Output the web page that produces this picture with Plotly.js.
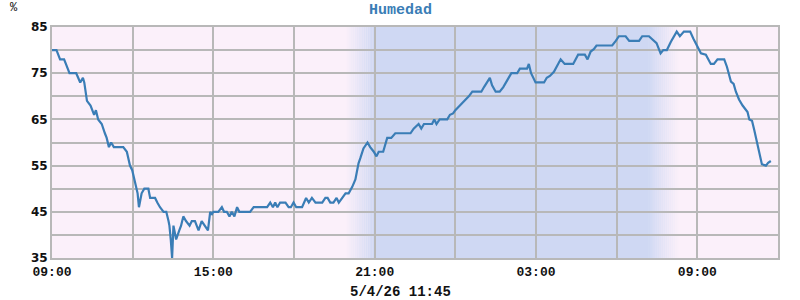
<!DOCTYPE html>
<html>
<head>
<meta charset="utf-8">
<script src="https://cdn.plot.ly/plotly-3.0.1.min.js"></script>
<style>html,body{margin:0;padding:0;background:#fff;}#chart{width:800px;height:300px;}</style>
</head>
<body>
<div id="chart"></div>
<script>
const times = [
"2026-04-04 09:00","2026-04-04 09:10","2026-04-04 09:18","2026-04-04 09:27","2026-04-04 09:31","2026-04-04 09:39","2026-04-04 09:54","2026-04-04 10:03","2026-04-04 10:09","2026-04-04 10:12",
"2026-04-04 10:18","2026-04-04 10:26","2026-04-04 10:34","2026-04-04 10:38","2026-04-04 10:43","2026-04-04 10:51","2026-04-04 10:58","2026-04-04 11:02","2026-04-04 11:07","2026-04-04 11:12",
"2026-04-04 11:18","2026-04-04 11:39","2026-04-04 11:47","2026-04-04 11:54","2026-04-04 11:59","2026-04-04 12:05","2026-04-04 12:11","2026-04-04 12:14","2026-04-04 12:20","2026-04-04 12:26",
"2026-04-04 12:35","2026-04-04 12:39","2026-04-04 12:50","2026-04-04 12:55","2026-04-04 13:01","2026-04-04 13:09","2026-04-04 13:15","2026-04-04 13:20","2026-04-04 13:22","2026-04-04 13:25",
"2026-04-04 13:28","2026-04-04 13:31","2026-04-04 13:37","2026-04-04 13:44","2026-04-04 13:48","2026-04-04 13:53","2026-04-04 13:59","2026-04-04 14:07","2026-04-04 14:12","2026-04-04 14:19",
"2026-04-04 14:27","2026-04-04 14:34","2026-04-04 14:42","2026-04-04 14:48","2026-04-04 14:53","2026-04-04 14:57","2026-04-04 15:00","2026-04-04 15:11","2026-04-04 15:19","2026-04-04 15:24",
"2026-04-04 15:30","2026-04-04 15:36","2026-04-04 15:41","2026-04-04 15:47","2026-04-04 15:53","2026-04-04 15:58","2026-04-04 16:22","2026-04-04 16:30","2026-04-04 17:00","2026-04-04 17:07",
"2026-04-04 17:13","2026-04-04 17:18","2026-04-04 17:23","2026-04-04 17:29","2026-04-04 17:41","2026-04-04 17:48","2026-04-04 17:53","2026-04-04 17:59","2026-04-04 18:05","2026-04-04 18:18",
"2026-04-04 18:27","2026-04-04 18:33","2026-04-04 18:40","2026-04-04 18:48","2026-04-04 19:03","2026-04-04 19:10","2026-04-04 19:15","2026-04-04 19:21","2026-04-04 19:28","2026-04-04 19:35",
"2026-04-04 19:40","2026-04-04 19:47","2026-04-04 19:55","2026-04-04 20:02","2026-04-04 20:10","2026-04-04 20:17","2026-04-04 20:24","2026-04-04 20:28","2026-04-04 20:35","2026-04-04 20:44",
"2026-04-04 20:50","2026-04-04 20:58","2026-04-04 21:04","2026-04-04 21:09","2026-04-04 21:19","2026-04-04 21:28","2026-04-04 21:37","2026-04-04 21:46","2026-04-04 22:20","2026-04-04 22:27",
"2026-04-04 22:38","2026-04-04 22:44","2026-04-04 22:50","2026-04-04 23:08","2026-04-04 23:13","2026-04-04 23:18","2026-04-04 23:25","2026-04-04 23:42","2026-04-04 23:48","2026-04-04 23:55",
"2026-04-05 00:00","2026-04-05 00:08","2026-04-05 00:15","2026-04-05 00:23","2026-04-05 00:30","2026-04-05 00:38","2026-04-05 00:58","2026-04-05 01:04","2026-04-05 01:10","2026-04-05 01:17",
"2026-04-05 01:22","2026-04-05 01:30","2026-04-05 01:39","2026-04-05 01:47","2026-04-05 01:56","2026-04-05 02:05","2026-04-05 02:18","2026-04-05 02:24","2026-04-05 02:40","2026-04-05 02:44",
"2026-04-05 02:49","2026-04-05 02:59","2026-04-05 03:18","2026-04-05 03:24","2026-04-05 03:31","2026-04-05 03:40","2026-04-05 03:55","2026-04-05 04:04","2026-04-05 04:23","2026-04-05 04:34",
"2026-04-05 04:49","2026-04-05 04:55","2026-04-05 05:02","2026-04-05 05:09","2026-04-05 05:15","2026-04-05 05:50","2026-04-05 05:58","2026-04-05 06:05","2026-04-05 06:20","2026-04-05 06:28",
"2026-04-05 06:50","2026-04-05 06:57","2026-04-05 07:12","2026-04-05 07:22","2026-04-05 07:29","2026-04-05 07:38","2026-04-05 07:44","2026-04-05 07:52","2026-04-05 08:01","2026-04-05 08:14",
"2026-04-05 08:21","2026-04-05 08:30","2026-04-05 08:44","2026-04-05 08:51","2026-04-05 09:00","2026-04-05 09:08","2026-04-05 09:19","2026-04-05 09:30","2026-04-05 09:37","2026-04-05 09:45",
"2026-04-05 10:00","2026-04-05 10:06","2026-04-05 10:15","2026-04-05 10:21","2026-04-05 10:26","2026-04-05 10:33","2026-04-05 10:41","2026-04-05 10:48","2026-04-05 10:52","2026-04-05 10:56",
"2026-04-05 11:02","2026-04-05 11:07","2026-04-05 11:13","2026-04-05 11:18","2026-04-05 11:24","2026-04-05 11:33","2026-04-05 11:38","2026-04-05 11:44"
];
const humidity = [
80,80,78,78,77,75,75,73,74,73,
69,68,66,67,65,64,62,61,59,60,
59,59,58,55,54,51.5,49,46,49,50,
50,48,48,47,46,45,45,43,42,39,
35,42,39,41,42,44,43,42,43,43,
41,43,42,41,45,44.5,45,45,46,45,
45,44,45,44,46,45,45,46,46,47,
46,47,46,47,47,46,46,47,46,46,
48,47,48,47,47,48,48,47,47,48,
47,48,49,49,50.4,52,55.5,56.6,58.7,60,
59,58,57,58,58,61,61,62,62,63,
64,63,64,64,65,64,65,65,66,66.3,
67,67.8,68.5,69.2,70,71,71,72,73,74,
72.4,71,71,72,73.5,75,75,76,76,77,
75,73,73,74,74.4,75.3,78,77,77,79,
79,78,79.7,80.2,81,81,82,83,83,82,
82,83,83,82,81.5,79.3,80,80,81.8,84,
83,84,84,82.5,80.7,79.3,79,77,77,78,
78,76.4,73.2,72.7,71,69.3,68,67,66.6,65,
64.7,62.7,60,57.3,55.3,55,55.6,56
];
const xRange = ["2026-04-04 09:00", "2026-04-05 12:00"];
const xTickVals = ["2026-04-04 09:00","2026-04-04 12:00","2026-04-04 15:00","2026-04-04 18:00","2026-04-04 21:00",
  "2026-04-05 00:00","2026-04-05 03:00","2026-04-05 06:00","2026-04-05 09:00","2026-04-05 12:00"];
const xTickText = ["09:00","","15:00","","21:00","","03:00","","09:00",""];
const yTickVals = [35, 40, 45, 50, 55, 60, 65, 70, 75, 80, 85];
const yTickText = ["35","","45","","55","","65","","75","","85"];
const dusk = ["2026-04-04 19:55", "2026-04-04 21:00"];
const dawn = ["2026-04-05 07:10", "2026-04-05 08:20"];
const titleText = "Humedad";
const unitText = "%";
const stampText = "5/4/26 11:45";

const pink = [251, 240, 250], blue = [207, 216, 243];
function mix(f) {
  const c = pink.map((p, i) => Math.round(p + (blue[i] - p) * f));
  return `rgb(${c[0]},${c[1]},${c[2]})`;
}
function ms(s) { return new Date(s.replace(" ", "T") + ":00Z").getTime(); }
function iso(t) { return new Date(t).toISOString().replace("T", " ").slice(0, 19); }
const shapes = [];
const N = 16;
shapes.push({type: "rect", xref: "x", yref: "paper", x0: dusk[1], x1: dawn[0], y0: 0, y1: 1,
  fillcolor: mix(1), line: {width: 0}, layer: "below"});
const d0 = ms(dusk[0]), d1 = ms(dusk[1]), a0 = ms(dawn[0]), a1 = ms(dawn[1]);
for (let i = 0; i < N; i++) {
  const f = (i + 0.5) / N;
  shapes.push({type: "rect", xref: "x", yref: "paper",
    x0: iso(d0 + (d1 - d0) * i / N), x1: iso(d0 + (d1 - d0) * (i + 1) / N + 1000), y0: 0, y1: 1,
    fillcolor: mix(f), line: {width: 0}, layer: "below"});
  shapes.push({type: "rect", xref: "x", yref: "paper",
    x0: iso(a0 + (a1 - a0) * i / N), x1: iso(a0 + (a1 - a0) * (i + 1) / N + 1000), y0: 0, y1: 1,
    fillcolor: mix(1 - f), line: {width: 0}, layer: "below"});
}

const gridColor = "#b8b8b8";
const monoFam = "Courier New, Nimbus Mono PS, Liberation Mono, DejaVu Sans Mono, monospace";
const trace = {
  x: times, y: humidity, type: "scatter", mode: "lines",
  line: {color: "#3a7db6", width: 2.2},
  hoverinfo: "skip"
};
const layout = {
  width: 800, height: 300,
  margin: {l: 52, r: 22, t: 27, b: 42},
  paper_bgcolor: "#ffffff",
  plot_bgcolor: "rgb(251,240,250)",
  showlegend: false,
  shapes: shapes,
  xaxis: {
    type: "date", range: xRange,
    tickmode: "array", tickvals: xTickVals, ticktext: xTickText,
    showgrid: true, gridcolor: gridColor, gridwidth: 2,
    showline: true, linecolor: gridColor, linewidth: 2, mirror: true,
    ticks: "", ticklen: 0,
    tickfont: {family: monoFam, size: 13, color: "#111", weight: "bold"},
    zeroline: false, fixedrange: true
  },
  yaxis: {
    range: [35, 85],
    tickmode: "array", tickvals: yTickVals, ticktext: yTickText,
    showgrid: true, gridcolor: gridColor, gridwidth: 2,
    showline: true, linecolor: gridColor, linewidth: 2, mirror: true,
    ticks: "", ticklen: 0,
    tickfont: {family: "DejaVu Sans, Verdana, sans-serif", size: 12, color: "#111", weight: "bold"},
    zeroline: false, fixedrange: true
  },
  annotations: [
    {text: titleText, xref: "paper", yref: "paper", x: 0.5, xshift: -15, y: 1, yshift: 17, xanchor: "center", yanchor: "middle",
     showarrow: false, font: {family: monoFam, size: 15, color: "#3a7db6", weight: "bold"}},
    {text: unitText, xref: "paper", yref: "paper", x: 0, xshift: -38, y: 1, yshift: 19, xanchor: "center", yanchor: "middle",
     showarrow: false, font: {family: monoFam, size: 12, color: "#111"}},
    {text: stampText, xref: "paper", yref: "paper", x: 0.5, xshift: -15, y: 0, yshift: -34, xanchor: "center", yanchor: "middle",
     showarrow: false, font: {family: monoFam, size: 14, color: "#111", weight: "bold"}}
  ]
};
Plotly.newPlot("chart", [trace], layout, {displayModeBar: false, staticPlot: true});
</script>
</body>
</html>
